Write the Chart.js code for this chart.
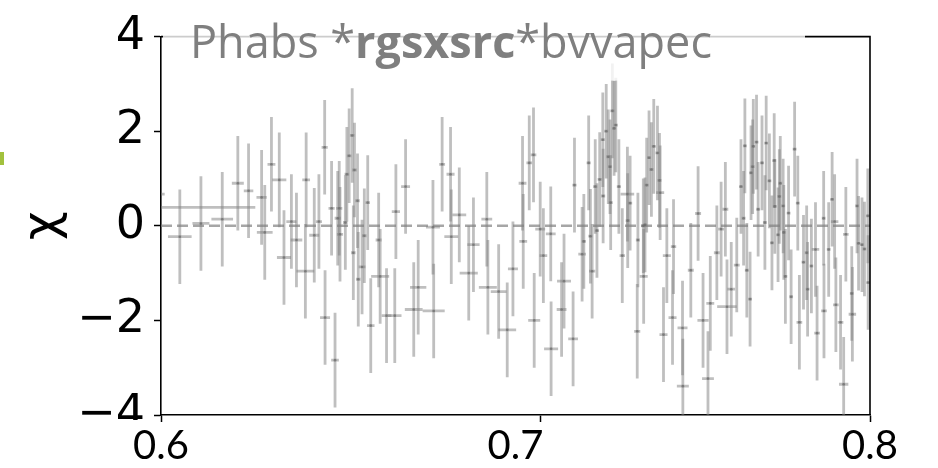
<!DOCTYPE html>
<html>
<head>
<meta charset="utf-8">
<script src="https://cdn.jsdelivr.net/npm/chart.js@4.4.1/dist/chart.umd.min.js"></script>
<style>
  html, body { margin: 0; padding: 0; background: #fff; }
</style>
</head>
<body>
<canvas id="resid" width="938" height="468"></canvas>
<script>
// residuals (data - model) / sigma against energy in keV; every bin has a +/-1 error
var energy = [
  0.5990, 0.6046, 0.6098, 0.6151, 0.6190, 0.6217, 0.6250, 0.6258, 0.6275, 0.6295,
  0.6307, 0.6326, 0.6339, 0.6364, 0.6362, 0.6385, 0.6397, 0.6412, 0.6413, 0.6430,
  0.6439, 0.6446, 0.6450, 0.6452, 0.6466, 0.6470, 0.6476, 0.6484, 0.6487, 0.6490,
  0.6498, 0.6500, 0.6510, 0.6516, 0.6525, 0.6533, 0.6554, 0.6558, 0.6575, 0.6597,
  0.6600, 0.6626, 0.6648, 0.6660, 0.6700, 0.6702, 0.6725, 0.6748, 0.6750, 0.6772,
  0.6798, 0.6811, 0.6848, 0.6851, 0.6881, 0.6905, 0.6921, 0.6948, 0.6950, 0.6967,
  0.6979, 0.6981, 0.6998, 0.7007, 0.7028, 0.7029, 0.7059, 0.7066, 0.7092, 0.7096,
  0.7118, 0.7123, 0.7137, 0.7142, 0.7147, 0.7156, 0.7161, 0.7169, 0.7178, 0.7179,
  0.7188, 0.7194, 0.7199, 0.7201, 0.7206, 0.7211, 0.7216, 0.7225, 0.7235, 0.7250,
  0.7251, 0.7258, 0.7279, 0.7281, 0.7297, 0.7298, 0.7302, 0.7307, 0.7314, 0.7321,
  0.7328, 0.7339, 0.7345, 0.7347, 0.7357, 0.7367, 0.7384, 0.7387, 0.7414, 0.7415,
  0.7439, 0.7461, 0.7476, 0.7491, 0.7498, 0.7518, 0.7531, 0.7544, 0.7549, 0.7562,
  0.7579, 0.7592, 0.7600, 0.7604, 0.7610, 0.7620, 0.7623, 0.7628, 0.7630, 0.7640,
  0.7645, 0.7657, 0.7666, 0.7670, 0.7680, 0.7688, 0.7695, 0.7697, 0.7707, 0.7711,
  0.7714, 0.7723, 0.7725, 0.7730, 0.7740, 0.7748, 0.7759, 0.7769, 0.7774, 0.7787,
  0.7797, 0.7800, 0.7812, 0.7825, 0.7830, 0.7851, 0.7852, 0.7867, 0.7878, 0.7886,
  0.7890, 0.7905, 0.7915, 0.7922, 0.7941, 0.7943, 0.7958, 0.7963, 0.7974, 0.7982,
  0.7993, 0.7994
];
var binHalfWidth = [
  0.0019, 0.0029, 0.0021, 0.0027, 0.0015, 0.0012, 0.0013, 0.0020, 0.0010, 0.0018,
  0.0018, 0.0013, 0.0015, 0.0010, 0.0023, 0.0013, 0.0008, 0.0008, 0.0013, 0.0008,
  0.0010, 0.0008, 0.0008, 0.0008, 0.0006, 0.0006, 0.0006, 0.0006, 0.0006, 0.0006,
  0.0006, 0.0006, 0.0009, 0.0006, 0.0006, 0.0010, 0.0008, 0.0024, 0.0013, 0.0018,
  0.0011, 0.0012, 0.0024, 0.0022, 0.0019, 0.0030, 0.0008, 0.0011, 0.0019, 0.0019,
  0.0025, 0.0017, 0.0015, 0.0025, 0.0022, 0.0025, 0.0014, 0.0011, 0.0011, 0.0008,
  0.0008, 0.0017, 0.0014, 0.0011, 0.0014, 0.0020, 0.0014, 0.0020, 0.0014, 0.0006,
  0.0011, 0.0006, 0.0006, 0.0006, 0.0009, 0.0006, 0.0006, 0.0006, 0.0006, 0.0006,
  0.0006, 0.0006, 0.0006, 0.0006, 0.0006, 0.0006, 0.0006, 0.0006, 0.0008, 0.0020,
  0.0006, 0.0006, 0.0009, 0.0006, 0.0006, 0.0012, 0.0006, 0.0006, 0.0006, 0.0006,
  0.0006, 0.0006, 0.0006, 0.0012, 0.0012, 0.0012, 0.0012, 0.0008, 0.0015, 0.0018,
  0.0009, 0.0009, 0.0017, 0.0018, 0.0012, 0.0009, 0.0009, 0.0009, 0.0030, 0.0012,
  0.0009, 0.0006, 0.0006, 0.0006, 0.0006, 0.0006, 0.0006, 0.0006, 0.0006, 0.0006,
  0.0006, 0.0006, 0.0006, 0.0006, 0.0006, 0.0006, 0.0006, 0.0006, 0.0006, 0.0006,
  0.0006, 0.0006, 0.0006, 0.0006, 0.0006, 0.0006, 0.0006, 0.0006, 0.0009, 0.0006,
  0.0006, 0.0006, 0.0006, 0.0012, 0.0009, 0.0006, 0.0009, 0.0006, 0.0006, 0.0012,
  0.0009, 0.0009, 0.0015, 0.0009, 0.0006, 0.0012, 0.0006, 0.0006, 0.0006, 0.0006,
  0.0006, 0.0006
];
var chi = [
   0.67, -0.23,  0.05,  0.14,  0.90,  0.74,  0.60, -0.14,  1.30,  0.97,
  -0.67,  0.09, -0.30,  0.97, -0.96, -0.20,  0.09,  1.66, -1.94,  0.37,
  -2.84,  0.16,  0.37, -0.18,  0.07,  1.09,  1.48,  1.91, -0.57,  1.18,
   0.53, -1.13, -0.87, -0.21,  0.49, -2.11, -0.30, -1.07, -1.90, -1.90,
   0.30,  0.83, -1.77, -1.30, -0.03, -1.80,  1.30,  1.09, -0.23,  0.23,
  -1.00, -0.40,  0.14, -1.30, -1.39, -2.20, -0.91,  0.90, -0.33,  1.33,
   1.50, -2.00, -0.07, -0.63, -0.17, -2.60, -1.77, -1.17, -2.39,  0.86,
  -0.60, -0.33,  1.33, -0.22, -0.96,  0.83, -0.10,  0.98,  1.82,  0.63,
   2.00,  1.46,  1.25,  0.49,  2.43,  2.06,  2.13,  0.83, -0.63,  0.67,
   0.11,  0.48, -2.23, -0.30,  0.00, -1.07,  0.02,  0.86,  1.44,  1.19,
   1.68,  1.54,  0.96,  0.70, -2.30, -0.63, -1.94, -0.44, -2.16, -3.39,
  -0.94,  0.26, -2.00, -3.23, -1.64, -0.57, -0.07,  0.35, -1.71, -1.34,
  -0.83,  0.83,  0.16,  1.69, -0.94, -1.55,  1.12,  1.25,  1.68,  1.77,
   0.35,  1.33,  0.07,  1.75,  0.95, -0.36,  1.38,  0.41, -0.19,  0.62,
   0.90,  0.42, -0.14, -1.07,  0.27, -1.50,  1.62,  0.48, -2.04, -0.77,
  -0.57, -1.34, -0.85, -0.50, -2.27,  0.16, -1.80, -0.50,  0.56,  0.09,
  -1.67, -2.04, -3.35, -0.18, -1.43, -1.87,  0.42, -0.37, -0.40, -0.49,
   0.21, -1.20
];
var CHI_ERR = 1;

// the single wide bin at the low-energy end
var wideEnergy = [0.6103];
var wideHalfWidth = [0.0131];
var wideChi = [0.39];

var energyTicks = [0.6, 0.7, 0.8];
var energyLabels = [0.6, 0.7, 0.8];
var chiTicks = [-4, -2, 0, 2, 4];
var modelParts = ['Phabs *', 'rgsxsrc', '*bvvapec'];

var BAR_COLOR = 'rgba(128,128,128,0.5)';

var points = energy.map(function (e, i) {
  return { x: e, y: chi[i], xerr: binHalfWidth[i], yerr: CHI_ERR };
});
var widePoints = wideEnergy.map(function (e, i) {
  return { x: e, y: wideChi[i], xerr: wideHalfWidth[i], yerr: 0 };
});

// x and y error bars, stroked one by one so overlaps darken
var errorBars = {
  id: 'errorBars',
  beforeDatasetsDraw: function (chart) {
    var ctx = chart.ctx, xs = chart.scales.x, ys = chart.scales.y, a = chart.chartArea;
    ctx.save();
    ctx.beginPath();
    ctx.rect(a.left, a.top, a.right - a.left, a.bottom - a.top);
    ctx.clip();
    ctx.lineWidth = 2.8;
    ctx.lineCap = 'butt';
    ctx.strokeStyle = BAR_COLOR;
    chart.data.datasets.forEach(function (ds) {
      if (!ds.errors) return;
      ds.data.forEach(function (p) {
        var px = xs.getPixelForValue(p.x), py = ys.getPixelForValue(p.y);
        if (p.yerr) {
          ctx.beginPath();
          ctx.moveTo(px, ys.getPixelForValue(p.y + p.yerr));
          ctx.lineTo(px, ys.getPixelForValue(p.y - p.yerr));
          ctx.stroke();
        }
        ctx.beginPath();
        ctx.moveTo(xs.getPixelForValue(p.x - p.xerr), py);
        ctx.lineTo(xs.getPixelForValue(p.x + p.xerr), py);
        ctx.stroke();
      });
    });
    ctx.restore();
  }
};

// top/right spines, model name box, cropped figure edge
var frame = {
  id: 'frame',
  afterDraw: function (chart) {
    var ctx = chart.ctx, a = chart.chartArea;
    ctx.save();
    ctx.strokeStyle = '#000';
    ctx.lineWidth = 1.6;
    ctx.beginPath();
    ctx.moveTo(a.left, a.top);
    ctx.lineTo(a.right, a.top);
    ctx.lineTo(a.right, a.bottom);
    ctx.stroke();

    // translucent text box over the top of the axes
    ctx.fillStyle = 'rgba(255,255,255,0.8)';
    ctx.fillRect(a.left + 2, 0, 642, a.top + 44);

    ctx.fillStyle = '#7f7f7f';
    ctx.textBaseline = 'alphabetic';
    var x = a.left + 29, base = a.top + 21;
    modelParts.forEach(function (t, i) {
      ctx.font = (i === 1 ? 'bold ' : '') + '45px "Open Sans"';
      ctx.fillText(t, x, base);
      x += ctx.measureText(t).width;
    });

    // the figure is cropped just below "-4"
    ctx.fillStyle = '#fff';
    ctx.fillRect(0, a.bottom + 5, a.left - 2, 9);

    // slide bullet edge
    ctx.fillStyle = '#a2c13d';
    ctx.fillRect(0, 152, 4, 13);
    ctx.restore();
  }
};

new Chart(document.getElementById('resid').getContext('2d'), {
  data: {
    datasets: [
      {
        type: 'line',
        data: [{ x: energyTicks[0], y: 0 }, { x: energyTicks[energyTicks.length - 1], y: 0 }],
        borderColor: 'rgba(128,128,128,0.7)',
        borderWidth: 2.5,
        borderDash: [11, 5],
        pointRadius: 0,
        order: 2
      },
      {
        type: 'scatter',
        data: points,
        errors: true,
        pointRadius: 1.3,
        borderWidth: 0,
        backgroundColor: 'rgba(100,100,100,0.6)',
        order: 1
      },
      {
        type: 'scatter',
        data: widePoints,
        errors: true,
        pointRadius: 0,
        order: 1
      }
    ]
  },
  options: {
    responsive: false,
    animation: false,
    devicePixelRatio: 1,
    layout: { padding: { top: 31.4, right: 68, left: 0, bottom: 0 } },
    plugins: { legend: { display: false }, tooltip: { enabled: false } },
    scales: {
      x: {
        type: 'logarithmic',
        min: 0.6,
        max: 0.8,
        position: 'bottom',
        weight: 0,
        afterBuildTicks: function (s) { s.ticks = energyTicks.map(function (v) { return { value: v }; }); },
        afterFit: function (s) { s.height = 7; },
        ticks: { display: false },
        grid: { drawOnChartArea: false, drawTicks: true, tickLength: 7, tickWidth: 1.5, tickColor: '#000' },
        border: { display: true, color: '#000', width: 1.6 }
      },
      xl: {
        type: 'linear',
        min: 0.6,
        max: 0.8,
        position: 'bottom',
        weight: 1,
        afterBuildTicks: function (s) { s.ticks = energyLabels.map(function (v) { return { value: v }; }); },
        afterFit: function (s) { s.height = 46; },
        grid: { display: false },
        border: { display: false },
        ticks: {
          font: { family: 'Lato', size: 40 },
          color: '#000',
          padding: -8,
          maxRotation: 0,
          autoSkip: false,
          callback: function (v) { return v.toFixed(1); }
        }
      },
      y: {
        min: -4,
        max: 4,
        afterBuildTicks: function (s) { s.ticks = chiTicks.map(function (v) { return { value: v }; }); },
        afterFit: function (s) { s.width = 161; },
        ticks: {
          font: { family: 'DejaVu Sans', size: 46 },
          color: '#000',
          padding: 9,
          callback: function (v) { return v < 0 ? '\u2212' + (-v) : '' + v; }
        },
        grid: { drawOnChartArea: false, tickLength: 7, tickWidth: 1.5, tickColor: '#000' },
        border: { color: '#000', width: 1.6 },
        title: {
          display: true,
          text: '\u03c7',
          font: { family: 'DejaVu Sans', size: 50 },
          color: '#000',
          padding: { top: 14, bottom: 0 }
        }
      }
    }
  },
  plugins: [errorBars, frame]
});
</script>
</body>
</html>
